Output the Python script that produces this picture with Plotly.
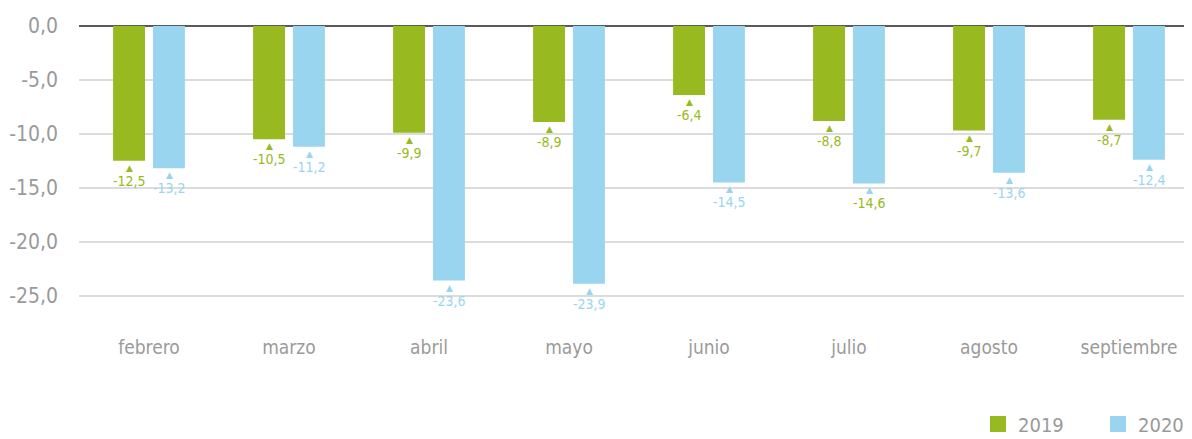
import plotly.graph_objects as go

months = ["febrero", "marzo", "abril", "mayo", "junio", "julio", "agosto", "septiembre"]
v2019 = [-12.5, -10.5, -9.9, -8.9, -6.4, -8.8, -9.7, -8.7]
v2020 = [-13.2, -11.2, -23.6, -23.9, -14.5, -14.6, -13.6, -12.4]
y_ticks = [0, -5, -10, -15, -20, -25]
y_ticktext = ["0,0", "-5,0", "-10,0", "-15,0", "-20,0", "-25,0"]

GREEN = "#99b921"
BLUE = "#99d5ee"
GRAY = "#9a9a9a"
FONT = "DejaVu Sans Condensed"

# label colour quirk in the original: julio 2020 label shown in green
label_col_2020 = [BLUE, BLUE, BLUE, BLUE, BLUE, GREEN, BLUE, BLUE]

fig = go.Figure()
fig.add_trace(go.Bar(x=months, y=v2019, name="2019", showlegend=False,
                     marker=dict(color=GREEN, line=dict(width=0))))
fig.add_trace(go.Bar(x=months, y=v2020, name="2020", showlegend=False,
                     marker=dict(color=BLUE, line=dict(width=0))))
# legend entries with large square swatches
for name, col in (("2019", GREEN), ("2020", BLUE)):
    fig.add_trace(go.Scatter(x=[None], y=[None], mode="markers", name=name,
                             marker=dict(symbol="square", size=18, color=col)))

annotations = []
for i, m in enumerate(months):
    for vals, xs, tri_col, lab_col in ((v2019, -20, GREEN, GREEN), (v2020, 20, BLUE, label_col_2020[i])):
        v = vals[i]
        annotations.append(dict(x=m, y=v, xref="x", yref="y", text="▲", showarrow=False,
                                xshift=xs, yshift=-7, yanchor="middle",
                                font=dict(family="DejaVu Sans", size=9, color=tri_col)))
        annotations.append(dict(x=m, y=v, xref="x", yref="y",
                                text=f"{v:.1f}".replace(".", ","), showarrow=False,
                                xshift=xs, yshift=-20, yanchor="middle",
                                font=dict(family=FONT, size=14, color=lab_col)))

fig.update_layout(
    width=1192, height=439,
    margin=dict(l=71, r=8, t=18, b=118.6, autoexpand=False),
    paper_bgcolor="white", plot_bgcolor="white",
    barmode="group", bargap=0.43, bargroupgap=0.2,
    font=dict(family=FONT, color=GRAY),
    showlegend=True,
    legend=dict(orientation="h", x=1.0 + 26 / 1113, xanchor="right", y=-0.318, yanchor="middle",
                font=dict(family=FONT, size=20, color=GRAY), itemwidth=30,
                traceorder="normal", entrywidth=75),
    annotations=annotations,
    xaxis=dict(range=[-0.5, -0.5 + 1113 / 140], showgrid=False, zeroline=False, showline=False,
               automargin=False,
               tickfont=dict(family=FONT, size=19, color=GRAY), ticks="", ticklabelstandoff=6),
    yaxis=dict(range=[-28, 0], tickvals=y_ticks, ticktext=y_ticktext,
               showgrid=True, gridcolor="#dcdcdc", gridwidth=1.5,
               zeroline=True, zerolinecolor="#5a5a5a", zerolinewidth=2,
               showline=False, ticks="", ticklabelstandoff=20, automargin=False,
               tickfont=dict(family=FONT, size=21, color=GRAY)),
)

fig.write_html("out.html")
